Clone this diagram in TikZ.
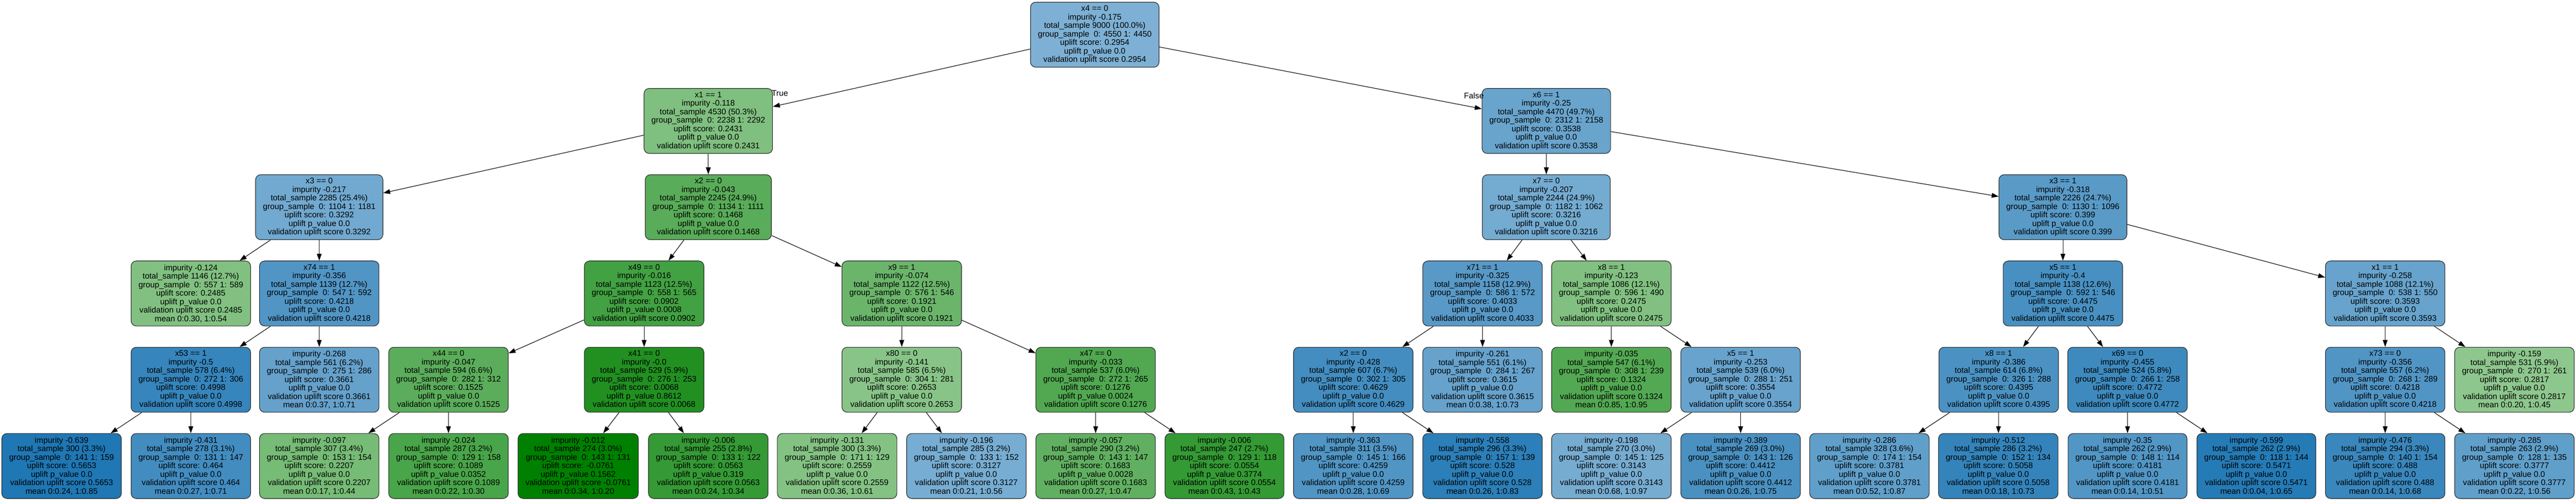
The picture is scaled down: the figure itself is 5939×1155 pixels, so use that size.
\documentclass[tikz,border=0pt]{standalone}
\usepackage{fontspec}
\setmainfont{Liberation Sans}
\usetikzlibrary{arrows.meta}
\definecolor{gA}{RGB}{0,128,0}
\definecolor{bA}{RGB}{31,119,180}
\definecolor{bord}{RGB}{45,45,45}
\newcommand\tfont{\fontsize{18.7pt}{19.6pt}\selectfont}
\newcommand\itx[7]{#1\\impurity #2\\total\_sample #3\\group\_sample\ \ 0: #4 1: #5\\uplift score: #6\\uplift p\_value #7\\validation uplift score #6}
\newcommand\ltx[7]{impurity #1\\total\_sample #2\\group\_sample\ \ 0: #3 1: #4\\uplift score: #5\\uplift p\_value #6\\validation uplift score #5\\mean #7}
\tikzset{
 tn/.style={draw=bord, line width=1.4pt, rounded corners=12pt, align=center, inner xsep=17pt, inner ysep=0pt, minimum height=150pt, font=\tfont},
 G/.style={tn, fill=gA!#1!white},
 B/.style={tn, fill=bA!#1!white},
 edge/.style={draw=black, line width=1.3pt, -{Triangle[length=16pt,width=11pt]}},
 lbl/.style={font=\tfont, inner sep=0pt}
}
\begin{document}
\begin{tikzpicture}[x=1pt,y=-1pt]
\useasboundingbox (0,0) rectangle (5939,1155);
% level 0
\node[B=57.9] (r) at (2524,80) {\itx{x4 == 0}{-0.175}{9000 (100.0\%)}{4550}{4450}{0.2954}{0.0}};
% level 1
\node[G=50.2] (a) at (1633,279) {\itx{x1 == 1}{-0.118}{4530 (50.3\%)}{2238}{2292}{0.2431}{0.0}};
\node[B=67.0] (b) at (3565,279) {\itx{x6 == 1}{-0.25}{4470 (49.7\%)}{2312}{2158}{0.3538}{0.0}};
% level 2
\node[B=63.2] (aa) at (736,478) {\itx{x3 == 0}{-0.217}{2285 (25.4\%)}{1104}{1181}{0.3292}{0.0}};
\node[G=65.2] (ab) at (1633,478) {\itx{x2 == 0}{-0.043}{2245 (24.9\%)}{1134}{1111}{0.1468}{0.0}};
\node[B=62.0] (ba) at (3565,478) {\itx{x7 == 0}{-0.207}{2244 (24.9\%)}{1182}{1062}{0.3216}{0.0}};
\node[B=74.1] (bb) at (4756,478) {\itx{x3 == 1}{-0.318}{2226 (24.7\%)}{1130}{1096}{0.399}{0.0}};
% level 3
\node[G=49.4] (aaa) at (440,677) {\ltx{-0.124}{1146 (12.7\%)}{557}{589}{0.2485}{0.0}{0:0.30, 1:0.54}};
\node[B=77.6] (aab) at (736,677) {\itx{x74 == 1}{-0.356}{1139 (12.7\%)}{547}{592}{0.4218}{0.0}};
\node[G=74.1] (aba) at (1485,677) {\itx{x49 == 0}{-0.016}{1123 (12.5\%)}{558}{565}{0.0902}{0.0008}};
\node[G=58.2] (abb) at (2079,677) {\itx{x9 == 1}{-0.074}{1122 (12.5\%)}{576}{546}{0.1921}{0.0}};
\node[B=74.7] (baa) at (3418,677) {\itx{x71 == 1}{-0.325}{1158 (12.9\%)}{586}{572}{0.4033}{0.0}};
\node[G=49.5] (bab) at (3715,677) {\itx{x8 == 1}{-0.123}{1086 (12.1\%)}{596}{490}{0.2475}{0.0}};
\node[B=81.6] (bba) at (4756,677) {\itx{x5 == 1}{-0.4}{1138 (12.6\%)}{592}{546}{0.4475}{0.0}};
\node[B=67.9] (bbb) at (5499,677) {\itx{x1 == 1}{-0.258}{1088 (12.1\%)}{538}{550}{0.3593}{0.0}};
% level 4
\node[B=89.8] (aaba) at (440,876) {\itx{x53 == 1}{-0.5}{578 (6.4\%)}{272}{306}{0.4998}{0.0}};
\node[B=68.9] (aabb) at (736,876) {\ltx{-0.268}{561 (6.2\%)}{275}{286}{0.3661}{0.0}{0:0.37, 1:0.71}};
\node[G=64.4] (abaa) at (1034,876) {\itx{x44 == 0}{-0.047}{594 (6.6\%)}{282}{312}{0.1525}{0.0}};
\node[G=87.1] (abab) at (1485,876) {\itx{x41 == 0}{-0.0}{529 (5.9\%)}{276}{253}{0.0068}{0.8612}};
\node[G=46.8] (abba) at (2079,876) {\itx{x80 == 0}{-0.141}{585 (6.5\%)}{304}{281}{0.2653}{0.0}};
\node[G=68.2] (abbb) at (2526,876) {\itx{x47 == 0}{-0.033}{537 (6.0\%)}{272}{265}{0.1276}{0.0024}};
\node[B=84.0] (baaa) at (3120,876) {\itx{x2 == 0}{-0.428}{607 (6.7\%)}{302}{305}{0.4629}{0.0}};
\node[B=68.2] (baab) at (3418,876) {\ltx{-0.261}{551 (6.1\%)}{284}{267}{0.3615}{0.0}{0:0.38, 1:0.73}};
\node[G=67.5] (baba) at (3715,876) {\ltx{-0.035}{547 (6.1\%)}{308}{239}{0.1324}{0.0}{0:0.85, 1:0.95}};
\node[B=67.3] (babb) at (4013,876) {\itx{x5 == 1}{-0.253}{539 (6.0\%)}{288}{251}{0.3554}{0.0}};
\node[B=80.4] (bbaa) at (4608,876) {\itx{x8 == 1}{-0.386}{614 (6.8\%)}{326}{288}{0.4395}{0.0}};
\node[B=86.3] (bbab) at (4905,876) {\itx{x69 == 0}{-0.455}{524 (5.8\%)}{266}{258}{0.4772}{0.0}};
\node[B=77.6] (bbba) at (5499,876) {\itx{x73 == 0}{-0.356}{557 (6.2\%)}{268}{289}{0.4218}{0.0}};
\node[G=44.2] (bbbb) at (5797,876) {\ltx{-0.159}{531 (5.9\%)}{270}{261}{0.2817}{0.0}{0:0.20, 1:0.45}};
% level 5
\node[B=100] (l1) at (142,1075) {\ltx{-0.639}{300 (3.3\%)}{141}{159}{0.5653}{0.0}{0:0.24, 1:0.85}};
\node[B=84.2] (l2) at (440,1075) {\ltx{-0.431}{278 (3.1\%)}{131}{147}{0.464}{0.0}{0:0.27, 1:0.71}};
\node[G=53.7] (l3) at (736,1075) {\ltx{-0.097}{307 (3.4\%)}{153}{154}{0.2207}{0.0}{0:0.17, 1:0.44}};
\node[G=71.2] (l4) at (1034,1075) {\ltx{-0.024}{287 (3.2\%)}{129}{158}{0.1089}{0.0352}{0:0.22, 1:0.30}};
\node[G=100] (l5) at (1333,1075) {\ltx{-0.012}{274 (3.0\%)}{143}{131}{-0.0761}{0.1562}{0:0.34, 1:0.20}};
\node[G=79.4] (l6) at (1633,1075) {\ltx{-0.006}{255 (2.8\%)}{133}{122}{0.0563}{0.319}{0:0.24, 1:0.34}};
\node[G=48.2] (l7) at (1930,1075) {\ltx{-0.131}{300 (3.3\%)}{171}{129}{0.2559}{0.0}{0:0.36, 1:0.61}};
\node[B=60.6] (l8) at (2228,1075) {\ltx{-0.196}{285 (3.2\%)}{133}{152}{0.3127}{0.0}{0:0.21, 1:0.56}};
\node[G=61.9] (l9) at (2526,1075) {\ltx{-0.057}{290 (3.2\%)}{143}{147}{0.1683}{0.0028}{0:0.27, 1:0.47}};
\node[G=79.5] (l10) at (2823,1075) {\ltx{-0.006}{247 (2.7\%)}{129}{118}{0.0554}{0.3774}{0:0.43, 1:0.43}};
\node[B=78.3] (l11) at (3120,1075) {\ltx{-0.363}{311 (3.5\%)}{145}{166}{0.4259}{0.0}{0:0.28, 1:0.69}};
\node[B=94.2] (l12) at (3418,1075) {\ltx{-0.558}{296 (3.3\%)}{157}{139}{0.528}{0.0}{0:0.26, 1:0.83}};
\node[B=60.9] (l13) at (3715,1075) {\ltx{-0.198}{270 (3.0\%)}{145}{125}{0.3143}{0.0}{0:0.68, 1:0.97}};
\node[B=80.7] (l14) at (4013,1075) {\ltx{-0.389}{269 (3.0\%)}{143}{126}{0.4412}{0.0}{0:0.26, 1:0.75}};
\node[B=70.8] (l15) at (4310,1075) {\ltx{-0.286}{328 (3.6\%)}{174}{154}{0.3781}{0.0}{0:0.52, 1:0.87}};
\node[B=90.7] (l16) at (4607,1075) {\ltx{-0.512}{286 (3.2\%)}{152}{134}{0.5058}{0.0}{0:0.18, 1:0.73}};
\node[B=77.1] (l17) at (4905,1075) {\ltx{-0.35}{262 (2.9\%)}{148}{114}{0.4181}{0.0}{0:0.14, 1:0.51}};
\node[B=97.2] (l18) at (5202,1075) {\ltx{-0.599}{262 (2.9\%)}{118}{144}{0.5471}{0.0}{0:0.04, 1:0.65}};
\node[B=87.9] (l19) at (5499,1075) {\ltx{-0.476}{294 (3.3\%)}{140}{154}{0.488}{0.0}{0:0.14, 1:0.68}};
\node[B=70.8] (l20) at (5797,1075) {\ltx{-0.285}{263 (2.9\%)}{128}{135}{0.3777}{0.0}{0:0.22, 1:0.56}};
% edge labels
\node[lbl] (tl) at (1798,215) {True};
\node[lbl] (fl) at (3398,221) {False};
% edges
\foreach \p/\c in {r/a,r/b,a/aa,a/ab,b/ba,b/bb,
  aa/aaa,aa/aab,ab/aba,ab/abb,ba/baa,ba/bab,bb/bba,bb/bbb,
  aab/aaba,aab/aabb,aba/abaa,aba/abab,abb/abba,abb/abbb,baa/baaa,baa/baab,bab/baba,bab/babb,bba/bbaa,bba/bbab,bbb/bbba,bbb/bbbb,
  aaba/l1,aaba/l2,abaa/l3,abaa/l4,abab/l5,abab/l6,abba/l7,abba/l8,abbb/l9,abbb/l10,
  baaa/l11,baaa/l12,babb/l13,babb/l14,bbaa/l15,bbaa/l16,bbab/l17,bbab/l18,bbba/l19,bbba/l20}
  {\draw[edge] (\p) -- (\c);}
\end{tikzpicture}
\end{document}
